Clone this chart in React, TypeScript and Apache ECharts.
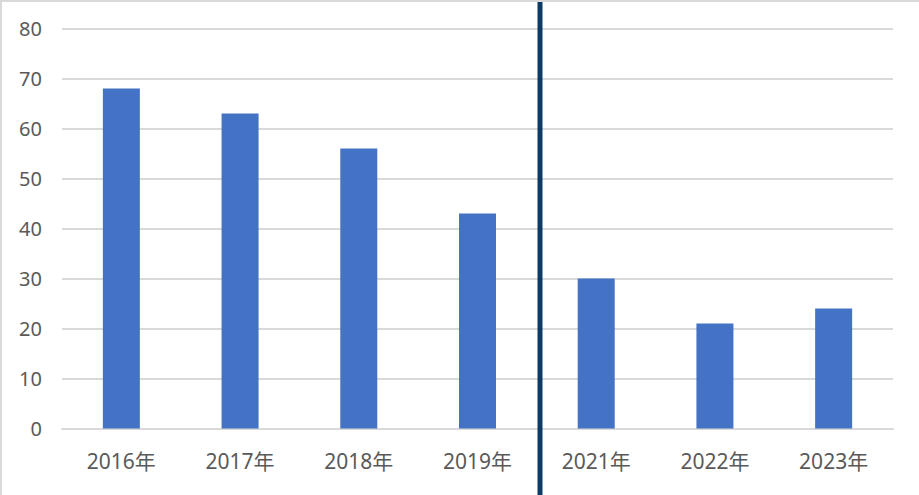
import React, { useEffect, useRef } from "react";
import * as echarts from "echarts";

const categories = ["2016年", "2017年", "2018年", "2019年", "2021年", "2022年", "2023年"];
const values = [68, 63, 56, 43, 30, 21, 24];
const yMin = 0;
const yMax = 80;
const yInterval = 10;

export default function App() {
  const ref = useRef<HTMLDivElement>(null);
  useEffect(() => {
    if (!ref.current) return;
    const chart = echarts.init(ref.current, undefined, { renderer: "svg" });
    chart.setOption({
      animation: false,
      backgroundColor: "#ffffff",
      grid: { left: 62, right: 26, top: 28.5, bottom: 66.5, containLabel: false },
      xAxis: {
        type: "category",
        data: categories,
        axisLine: { show: true, lineStyle: { color: "#d9d9d9", width: 2 } },
        axisTick: { show: false },
        axisLabel: {
          color: "#595959",
          fontSize: 21,
          fontFamily: "Noto Sans, Noto Sans CJK SC",
          margin: 22,
        },
      },
      yAxis: {
        type: "value",
        min: yMin,
        max: yMax,
        interval: yInterval,
        axisLine: { show: false },
        axisTick: { show: false },
        splitLine: { lineStyle: { color: "#d9d9d9", width: 2 } },
        axisLabel: {
          color: "#595959",
          fontSize: 20,
          fontFamily: "Noto Sans, Noto Sans CJK SC",
          margin: 20,
        },
      },
      series: [
        {
          type: "bar",
          data: values,
          barWidth: 37,
          itemStyle: { color: "#4472c4" },
        },
      ],
      graphic: [
        {
          type: "line",
          shape: { x1: 0, y1: 1, x2: 919, y2: 1 },
          style: { stroke: "#d9d9d9", lineWidth: 2 },
        },
        {
          type: "line",
          shape: { x1: 1, y1: 0, x2: 1, y2: 495 },
          style: { stroke: "#d9d9d9", lineWidth: 2 },
        },
        {
          type: "line",
          shape: { x1: 540, y1: 2, x2: 540, y2: 495 },
          style: { stroke: "#0e3a66", lineWidth: 5 },
          z: 100,
        },
      ],
    });
    return () => chart.dispose();
  }, []);
  return (
    <div
      ref={ref}
      style={{ position: "absolute", left: 0, top: 0, width: 919, height: 495 }}
    />
  );
}
